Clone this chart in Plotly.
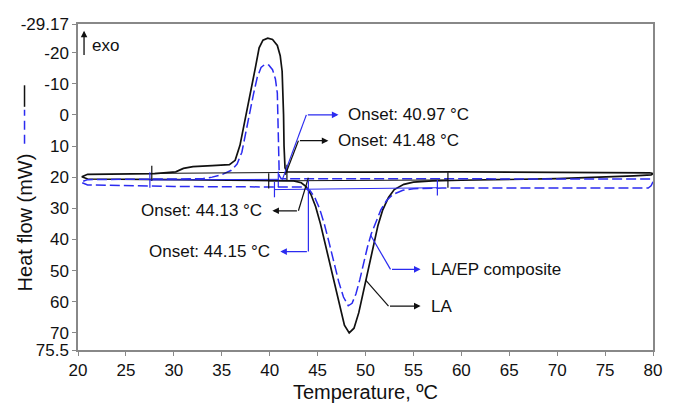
import plotly.graph_objects as go

# ---------------- data ----------------
# LA (black, solid): cooling run (exotherm, upper trace)
la_cool_T = [79.7, 70.0, 60.0, 50.0, 42.5, 41.8, 41.6, 41.5, 41.45, 41.4, 41.3, 41.1, 40.8, 40.3,
             39.8, 39.3, 38.9, 38.5, 38.1, 37.7, 37.3, 36.9, 36.4, 35.8, 34.0, 32.0, 31.0, 30.2,
             28.0, 24.0, 21.0, 20.4]
la_cool_Q = [18.6, 18.4, 18.3, 18.4, 18.5, 18.3, 17.0, 10.0, 0.0, -8.0, -14.0, -19.0, -22.3, -24.2,
             -24.6, -24.0, -21.5, -15.0, -8.5, -2.5, 3.5, 9.8, 14.6, 16.0, 16.3, 16.6, 17.2, 18.3,
             18.9, 19.1, 19.1, 19.9]
# LA heating run (endotherm)
la_heat_T = [20.4, 21.0, 30.0, 40.0, 42.5, 43.3, 43.8, 44.3, 44.8, 45.3, 45.8, 46.3, 46.8, 47.3,
             47.8, 48.3, 48.8, 49.3, 49.8, 50.3, 50.8, 51.3, 51.8, 52.4, 53.0, 54.0, 55.0, 57.0,
             60.0, 70.0, 78.0, 79.8, 80.0, 79.7]
la_heat_Q = [19.9, 20.6, 20.8, 21.0, 21.2, 21.8, 23.0, 25.5, 29.5, 35.0, 41.5, 48.5, 55.5, 62.0,
             67.5, 70.0, 68.5, 63.5, 56.5, 49.0, 42.0, 35.5, 30.5, 26.5, 24.0, 22.3, 21.6, 21.2,
             21.0, 20.5, 19.6, 19.3, 18.9, 18.6]

# LA/EP composite (blue, dashed): cooling run
ep_cool_T = [79.7, 70.0, 60.0, 50.0, 42.0, 41.2, 41.0, 40.95, 40.9, 40.8, 40.6, 40.3, 39.9, 39.5,
             39.1, 38.7, 38.3, 37.9, 37.5, 37.1, 36.6, 36.0, 35.0, 34.0, 33.0, 25.0, 21.0, 20.3]
ep_cool_Q = [20.6, 20.6, 20.6, 20.6, 20.6, 20.5, 19.5, 10.0, 0.0, -7.0, -11.5, -14.5, -16.0, -16.2,
             -15.2, -12.0, -6.5, 0.0, 6.5, 12.0, 15.8, 17.8, 19.2, 20.0, 20.5, 20.7, 20.8, 21.6]
# LA/EP composite heating run
ep_heat_T = [20.3, 21.0, 30.0, 43.5, 44.2, 44.7, 45.2, 45.7, 46.2, 46.7, 47.2, 47.7, 48.2, 48.6,
             49.0, 49.4, 49.8, 50.2, 50.6, 51.1, 51.6, 52.2, 52.9, 53.9, 55.0, 58.0, 70.0, 79.5,
             79.8, 80.0, 79.7]
ep_heat_Q = [21.6, 22.5, 23.0, 23.2, 24.2, 26.5, 30.0, 35.0, 41.0, 47.5, 53.5, 58.5, 61.3, 60.5,
             57.5, 53.0, 47.5, 42.5, 38.2, 34.0, 30.5, 27.5, 25.5, 24.2, 23.7, 23.5, 23.5, 23.5,
             22.8, 21.5, 20.6]

# integration baselines (start/end temperature, start/end heat flow)
la_base_cool_T = [27.7, 41.8]
la_base_cool_Q = [18.8, 18.5]
ep_base_cool_T = [27.5, 40.9]
ep_base_cool_Q = [20.9, 20.7]
la_base_heat_T = [39.9, 58.6]
la_base_heat_Q = [21.2, 20.9]
ep_base_heat_T = [40.5, 57.5]
ep_base_heat_Q = [24.0, 23.4]

# axis ticks
x_ticks = [20, 25, 30, 35, 40, 45, 50, 55, 60, 65, 70, 75, 80]
y_ticks = [-29.17, -20, -10, 0, 10, 20, 30, 40, 50, 60, 70, 75.5]
y_tick_text = ["-29.17", "-20", "-10", "0", "10", "20", "30", "40", "50", "60", "70", "75.5"]

# callouts: label, colour, curve point, elbow, arrow tip, text side
callout_labels = ["Onset: 40.97 °C", "Onset: 41.48 °C", "Onset: 44.13 °C",
                  "Onset: 44.15 °C", "LA/EP composite", "LA"]
callout_colors = ["blue", "black", "black", "blue", "blue", "black"]
callout_point_T = [41.32, 41.64, 44.04, 44.04, 50.52, 50.0]
callout_point_Q = [20.8, 19.25, 20.2, 21.1, 38.6, 53.0]
callout_elbow_T = [43.83, 43.0, 43.0, 44.04, 52.61, 52.4]
callout_elbow_Q = [0.0, 8.3, 30.8, 43.9, 49.6, 61.4]
callout_tip_T = [47.18, 46.13, 40.28, 41.11, 55.75, 55.75]
callout_side = ["left", "left", "right", "right", "left", "left"]

BLACK = "#111111"
BLUE = "#2b2bf0"
FONT = "Arial, Liberation Sans, sans-serif"
col = {"black": BLACK, "blue": BLUE}

fig = go.Figure()

# curves
fig.add_trace(go.Scatter(x=la_cool_T + la_heat_T, y=la_cool_Q + la_heat_Q, mode="lines",
                         line=dict(color=BLACK, width=1.7), showlegend=False, hoverinfo="skip"))
fig.add_trace(go.Scatter(x=ep_cool_T + ep_heat_T, y=ep_cool_Q + ep_heat_Q, mode="lines",
                         line=dict(color=BLUE, width=1.5, dash="10px,4px"),
                         showlegend=False, hoverinfo="skip"))

# baselines with end ticks
for bt, bq, c in [(la_base_cool_T, la_base_cool_Q, BLACK), (ep_base_cool_T, ep_base_cool_Q, BLUE),
                  (la_base_heat_T, la_base_heat_Q, BLACK), (ep_base_heat_T, ep_base_heat_Q, BLUE)]:
    fig.add_trace(go.Scatter(x=bt, y=bq, mode="lines+markers",
                             line=dict(color=c, width=1.0),
                             marker=dict(symbol="line-ns-open", size=11,
                                         line=dict(color=c, width=1.2)),
                             showlegend=False, hoverinfo="skip"))

annotations = []
for lab, c, pT, pQ, eT, eQ, tT, side in zip(callout_labels, callout_colors, callout_point_T,
                                             callout_point_Q, callout_elbow_T, callout_elbow_Q,
                                             callout_tip_T, callout_side):
    cc = col[c]
    fig.add_trace(go.Scatter(x=[pT, eT], y=[pQ, eQ], mode="lines",
                             line=dict(color=cc, width=1.2), showlegend=False, hoverinfo="skip"))
    annotations.append(dict(x=tT, y=eQ, ax=eT, ay=eQ, axref="x", ayref="y", xref="x", yref="y",
                            text="", showarrow=True, arrowhead=2, arrowsize=1.1, arrowwidth=1.2,
                            arrowcolor=cc, standoff=0, startstandoff=0))
    shift = 8 if side == "left" else -8
    annotations.append(dict(x=tT, y=eQ, xref="x", yref="y", text=lab, showarrow=False,
                            xanchor=side, yanchor="middle", xshift=shift,
                            font=dict(family=FONT, size=17, color="#111111")))

# exo arrow
annotations.append(dict(x=20.63, y=-27.0, ax=20.63, ay=-18.7, axref="x", ayref="y",
                        xref="x", yref="y", text="", showarrow=True, arrowhead=2,
                        arrowsize=1.0, arrowwidth=1.3, arrowcolor=BLACK, standoff=0))
annotations.append(dict(x=21.2, y=-22.3, xref="x", yref="y", text="exo", showarrow=False,
                        xanchor="left", yanchor="middle",
                        font=dict(family=FONT, size=17, color="#111111")))

# y-title with line-style key
annotations.append(dict(x=-0.093, y=0.39, xref="paper", yref="paper", text="Heat flow (mW)",
                        showarrow=False, textangle=-90, xanchor="center", yanchor="middle",
                        font=dict(family=FONT, size=20, color="#111111")))
shapes = [
    dict(type="line", xref="paper", yref="paper", x0=-0.093, x1=-0.093, y0=0.746, y1=0.812,
         line=dict(color=BLACK, width=1.5)),
    dict(type="line", xref="paper", yref="paper", x0=-0.093, x1=-0.093, y0=0.633, y1=0.737,
         line=dict(color=BLUE, width=1.5, dash="9px,5px")),
]

# the page body adds an 8 px offset, so the figure is sized to fit the window
fig.update_layout(
    width=667, height=400,
    margin=dict(l=70, r=22, t=7, b=58),
    paper_bgcolor="white", plot_bgcolor="white",
    annotations=annotations, shapes=shapes,
    font=dict(family=FONT, size=17, color="#111111"),
)
fig.update_xaxes(range=[20, 80], tickvals=x_ticks, ticks="outside", ticklen=4,
                 tickcolor="#888888", showline=True, linecolor="#888888", linewidth=1.5,
                 mirror=True, showgrid=False, zeroline=False, ticklabeloverflow="allow",
                 tickfont=dict(family=FONT, size=17, color="#111111"),
                 title=dict(text="Temperature, ºC", font=dict(family=FONT, size=20),
                            standoff=6))
fig.update_yaxes(range=[75.5, -29.17], tickvals=y_ticks, ticktext=y_tick_text,
                 ticks="outside", ticklen=4, tickcolor="#888888", showline=True,
                 linecolor="#888888", linewidth=1.5, mirror=True, showgrid=False,
                 zeroline=False, ticklabeloverflow="allow",
                 tickfont=dict(family=FONT, size=17, color="#111111"))

fig.write_html("out.html")
